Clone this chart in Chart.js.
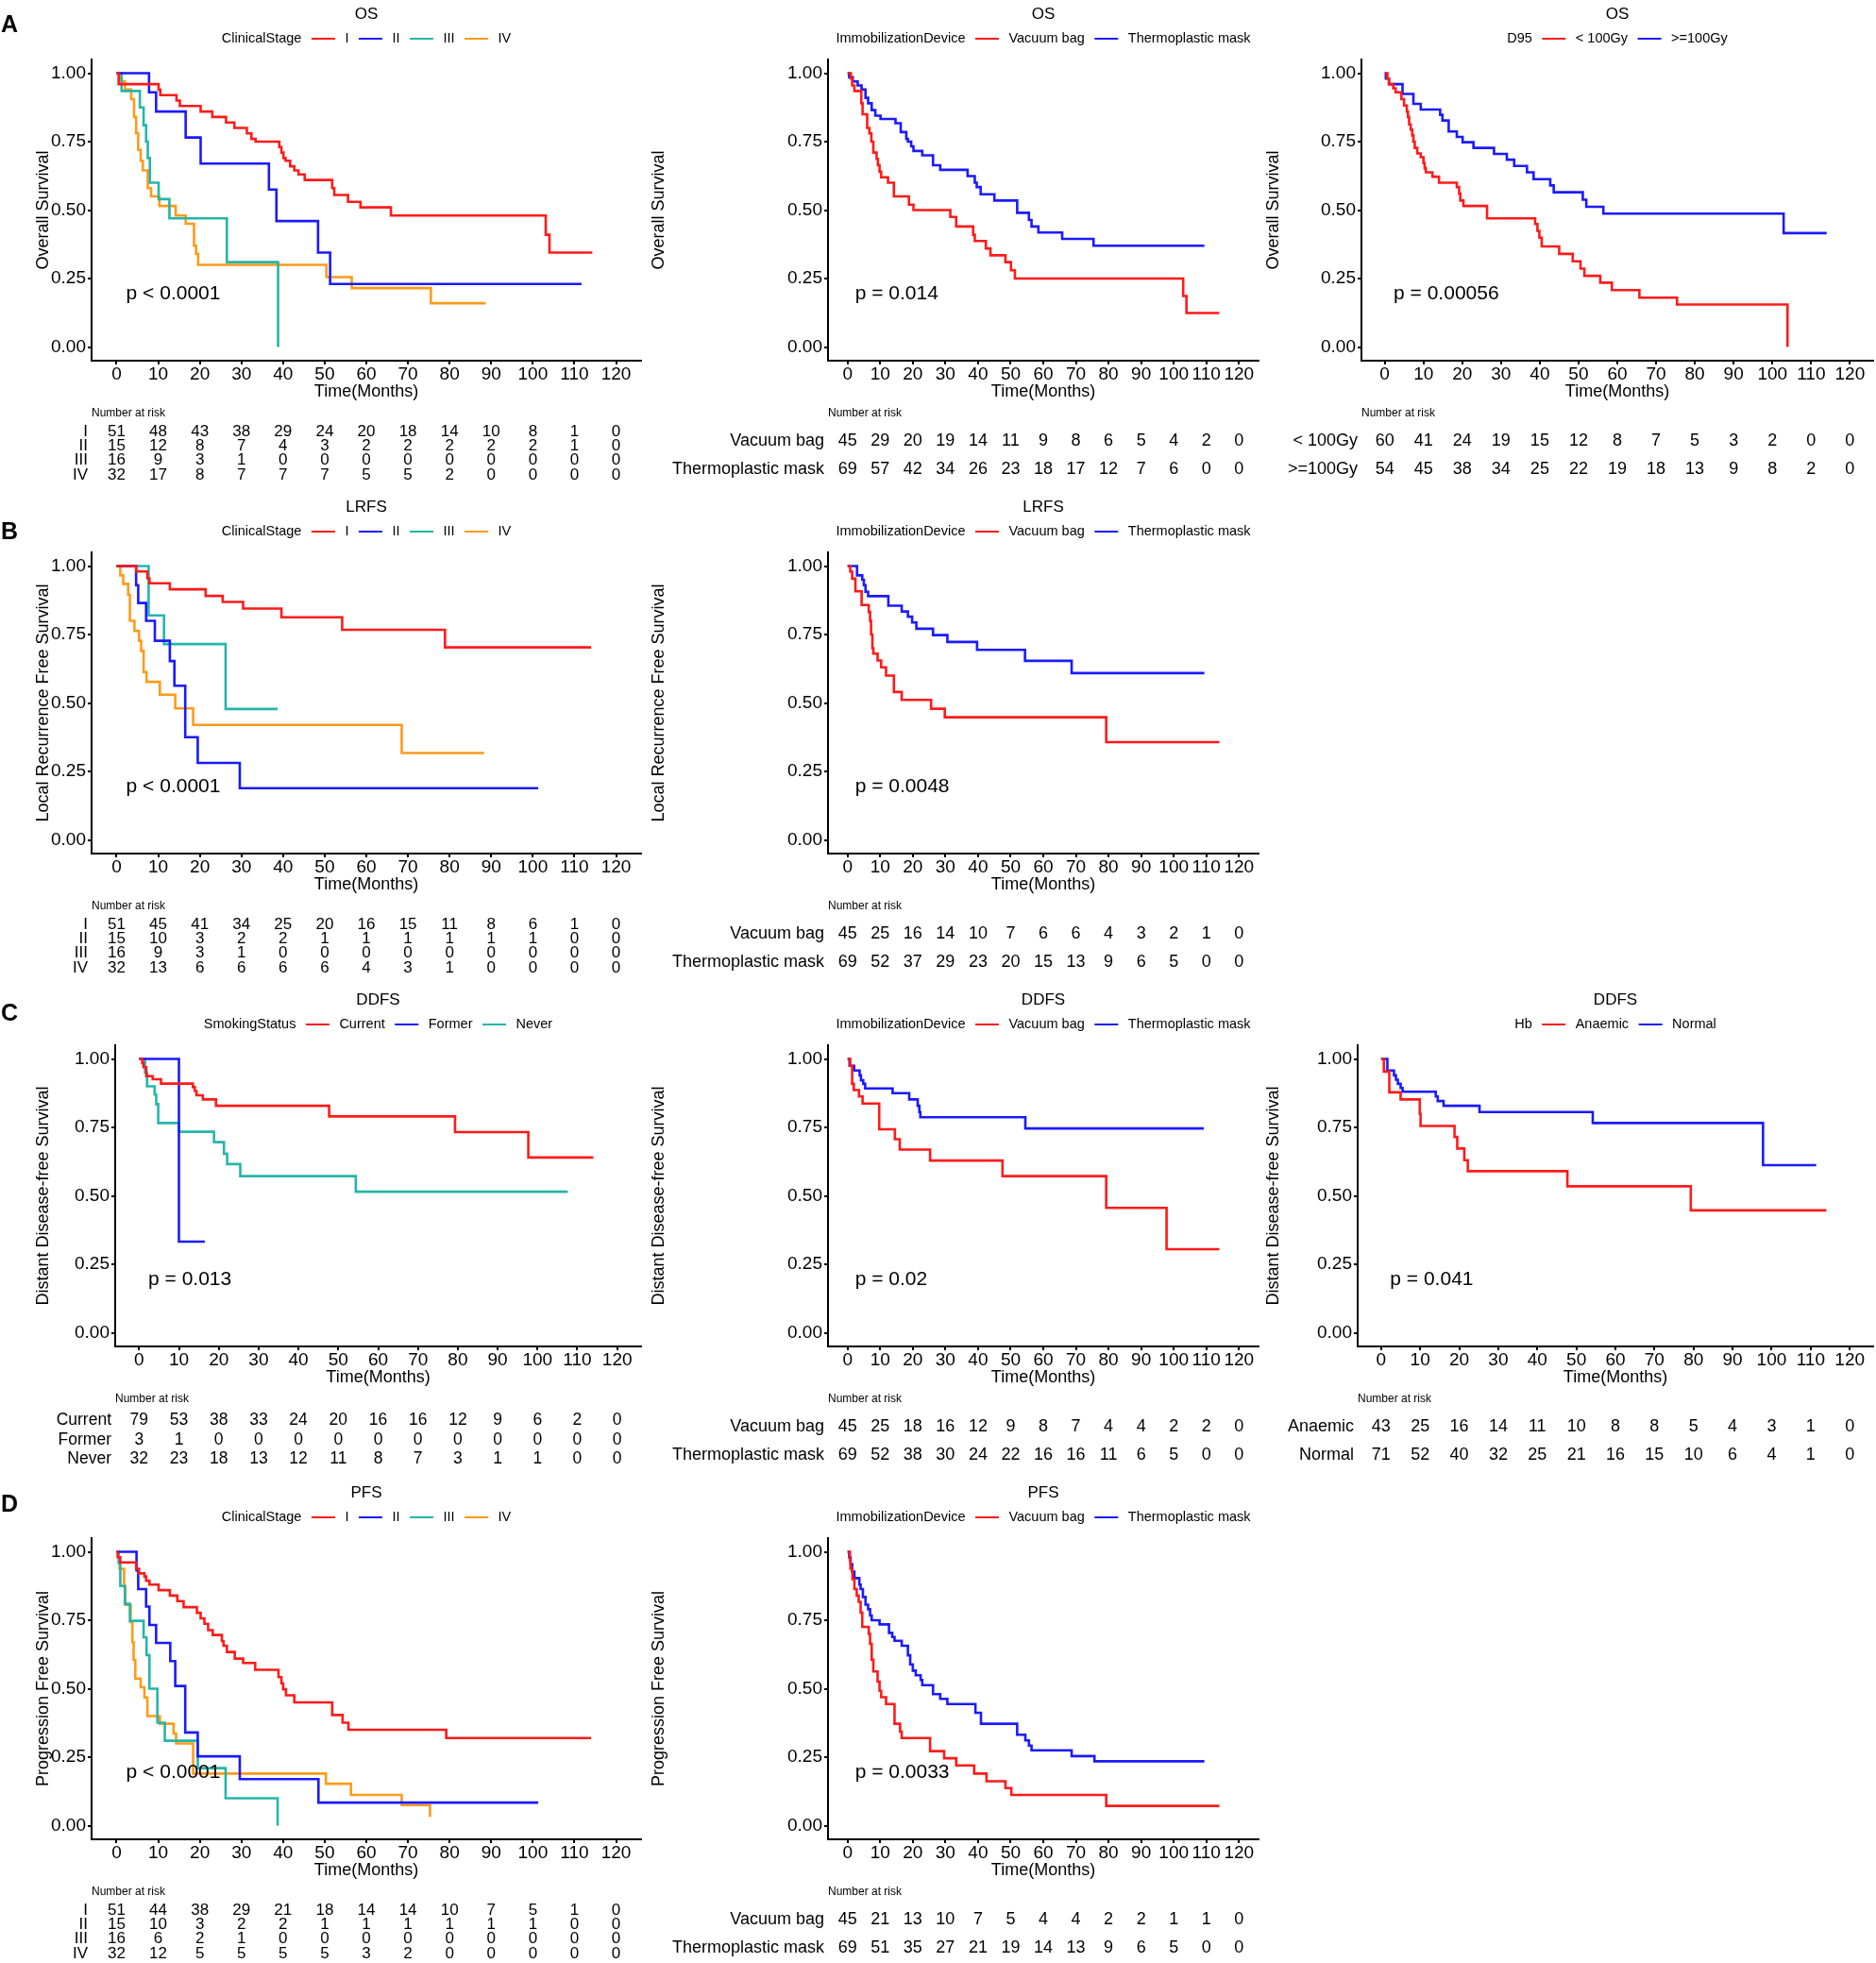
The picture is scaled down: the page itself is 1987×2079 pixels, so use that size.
<!DOCTYPE html>
<html>
<head>
<meta charset="utf-8">
<script src="https://cdn.jsdelivr.net/npm/chart.js@4.4.1/dist/chart.umd.min.js"></script>
<style>
  html, body { margin: 0; padding: 0; background: #fff; }
  #page { position: relative; width: 1987px; height: 2079px; overflow: hidden; background: #fff; }
  #page canvas { position: absolute; }
</style>
</head>
<body>
<div id="page"></div>
<script>
// axes
const xTicks = [0, 10, 20, 30, 40, 50, 60, 70, 80, 90, 100, 110, 120];
const yTicks = [0, 0.25, 0.5, 0.75, 1];
const yTickLabels = ['0.00', '0.25', '0.50', '0.75', '1.00'];

// group names
const stageGroups = ['I', 'II', 'III', 'IV'];
const deviceGroups = ['Vacuum bag', 'Thermoplastic mask'];
const doseGroups = ['< 100Gy', '>=100Gy'];
const smokingGroups = ['Current', 'Former', 'Never'];
const hbGroups = ['Anaemic', 'Normal'];

// ---- A: OS ----
// [month, survival] at each step
const osStageI = [[0,1],[0.5,0.96],[10.1,0.94],[10.5,0.92],[14.4,0.90],[15.2,0.88],[20.2,0.86],[23,0.84],[26.3,0.82],[28.3,0.80],[31.3,0.78],[32.4,0.76],[33.4,0.75],[39.1,0.73],[39.6,0.71],[40.1,0.69],[40.6,0.68],[41.7,0.66],[42.7,0.645],[43.7,0.63],[45.2,0.61],[51.8,0.58],[52.3,0.555],[55.6,0.53],[58.6,0.51],[65.9,0.48],[103.1,0.41],[104,0.345],[114.3,0.345]];
const osStageII = [[0,1],[7.8,0.93],[9.5,0.86],[16.6,0.765],[20.2,0.67],[36.6,0.575],[38.4,0.46],[48.4,0.345],[51.3,0.23],[111.7,0.23]];
const osStageIII = [[0,1],[1.2,0.935],[5.6,0.875],[6.5,0.81],[7.1,0.75],[7.5,0.69],[8,0.60],[10.1,0.54],[12.7,0.47],[26.5,0.31],[38.8,0]];
const osStageIV = [[0,1],[0.8,0.97],[2,0.94],[3.5,0.905],[4.2,0.84],[4.7,0.78],[5.2,0.72],[5.8,0.68],[6.3,0.645],[7.5,0.58],[8.3,0.55],[10.3,0.515],[14.2,0.48],[16.6,0.45],[18.6,0.37],[19.1,0.34],[19.6,0.30],[50.4,0.255],[56.5,0.215],[75.5,0.16],[88.7,0.16]];
const osStageRisk = [[51,48,43,38,29,24,20,18,14,10,8,1,0],[15,12,8,7,4,3,2,2,2,2,2,1,0],[16,9,3,1,0,0,0,0,0,0,0,0,0],[32,17,8,7,7,7,5,5,2,0,0,0,0]];

const osVacuum = [[0,1],[1,0.98],[1.4,0.955],[2.1,0.935],[4.2,0.89],[4.6,0.85],[6,0.80],[6.7,0.78],[7.3,0.75],[7.9,0.71],[8.9,0.687],[9.3,0.664],[9.8,0.64],[10.3,0.62],[12.4,0.60],[14.2,0.55],[18.8,0.52],[20.2,0.50],[31.5,0.475],[33.3,0.44],[38.5,0.41],[39,0.387],[42.4,0.36],[43.8,0.335],[48.4,0.31],[50.1,0.28],[51.3,0.25],[102.9,0.186],[103.9,0.124],[114,0.124]];
const osMask = [[0,1],[0.5,0.985],[1.6,0.97],[3.1,0.955],[4.3,0.94],[5.5,0.91],[6.3,0.89],[7.4,0.865],[8.5,0.845],[10.1,0.833],[14.7,0.817],[16.3,0.785],[18,0.76],[18.5,0.75],[19.5,0.733],[20.2,0.716],[22.9,0.70],[26.2,0.664],[28.4,0.647],[36.8,0.624],[39,0.60],[39.6,0.584],[40.8,0.558],[45,0.535],[52,0.49],[55.6,0.464],[56.4,0.44],[58.5,0.418],[65.8,0.395],[75.4,0.37],[109.4,0.37]];
const osDeviceRisk = [[45,29,20,19,14,11,9,8,6,5,4,2,0],[69,57,42,34,26,23,18,17,12,7,6,0,0]];

const osLowDose = [[0,1],[0.7,0.98],[1.1,0.96],[2.2,0.945],[2.8,0.93],[4.3,0.905],[5,0.882],[5.7,0.86],[6,0.84],[6.3,0.813],[6.7,0.794],[7.1,0.773],[7.4,0.75],[7.75,0.727],[8.4,0.707],[9.3,0.693],[10,0.672],[10.3,0.653],[10.6,0.638],[12.3,0.622],[14,0.60],[18.6,0.584],[19.2,0.56],[19.5,0.535],[20.3,0.515],[26.4,0.47],[38.8,0.449],[39.4,0.424],[39.9,0.399],[40.5,0.367],[45,0.34],[48.5,0.313],[50.5,0.286],[51.5,0.26],[55.6,0.235],[58.6,0.208],[65.7,0.18],[75.4,0.155],[103.9,0]];
const osHighDose = [[0,1],[0.3,0.98],[1.1,0.96],[4.6,0.924],[7.4,0.888],[9.3,0.867],[14.3,0.848],[14.9,0.827],[16.5,0.787],[18.6,0.767],[20.1,0.748],[22.9,0.727],[28.2,0.705],[31.5,0.684],[33.4,0.661],[36.7,0.638],[38.4,0.613],[42.7,0.59],[43.6,0.565],[51.1,0.538],[52,0.512],[56.4,0.487],[102.9,0.416],[114,0.416]];
const osDoseRisk = [[60,41,24,19,15,12,8,7,5,3,2,0,0],[54,45,38,34,25,22,19,18,13,9,8,2,0]];

// ---- B: LRFS ----
const lrfsStageI = [[0,1],[4.7,0.98],[7.4,0.955],[7.9,0.937],[12.8,0.915],[21.4,0.891],[25.5,0.869],[30.4,0.845],[39.6,0.813],[54.2,0.767],[78.9,0.703],[114,0.703]];
const lrfsStageII = [[0,1],[4.7,0.93],[5.2,0.865],[7.1,0.80],[9.2,0.727],[12.8,0.653],[13.9,0.563],[16.5,0.375],[19.5,0.281],[29.6,0.189],[101.3,0.189]];
const lrfsStageIII = [[0,1],[7.7,0.82],[11.4,0.715],[26.2,0.478],[38.7,0.478]];
const lrfsStageIV = [[0,1],[0.9,0.966],[1.6,0.935],[2.8,0.895],[3.2,0.80],[4.3,0.763],[5.4,0.727],[5.9,0.69],[6.5,0.613],[7.2,0.577],[10.4,0.53],[14.1,0.48],[18.4,0.42],[68.5,0.317],[88.3,0.317]];
const lrfsStageRisk = [[51,45,41,34,25,20,16,15,11,8,6,1,0],[15,10,3,2,2,1,1,1,1,1,1,0,0],[16,9,3,1,0,0,0,0,0,0,0,0,0],[32,13,6,6,6,6,4,3,1,0,0,0,0]];

const lrfsVacuum = [[0,1],[0.8,0.98],[1.4,0.954],[2.4,0.908],[4.3,0.858],[6.5,0.832],[6.9,0.80],[7.2,0.75],[7.6,0.70],[7.9,0.68],[9.2,0.655],[10.3,0.63],[11.8,0.60],[14.2,0.54],[16.6,0.511],[25.6,0.479],[29.8,0.448],[79.3,0.357],[114,0.357]];
const lrfsMask = [[0,1],[2.9,0.966],[4.5,0.95],[5,0.93],[5.5,0.906],[6.3,0.89],[12.5,0.855],[16.6,0.834],[18.5,0.815],[19.8,0.794],[21.1,0.771],[26.2,0.748],[30.6,0.723],[39.7,0.694],[54.4,0.654],[68.7,0.609],[109.4,0.609]];
const lrfsDeviceRisk = [[45,25,16,14,10,7,6,6,4,3,2,1,0],[69,52,37,29,23,20,15,13,9,6,5,0,0]];

// ---- C: DDFS ----
const ddfsCurrent = [[0,1],[0.8,0.985],[1.1,0.97],[1.8,0.937],[3.4,0.926],[5.5,0.91],[13.5,0.897],[14,0.883],[14.4,0.867],[16,0.852],[19.3,0.829],[47.7,0.79],[79.3,0.733],[97.7,0.64],[114,0.64]];
const ddfsFormer = [[0,1],[10,0.333],[16.5,0.333]];
const ddfsNever = [[0,1],[1.5,0.95],[2,0.90],[3.9,0.87],[4.3,0.835],[4.8,0.766],[10,0.734],[18.8,0.696],[21.3,0.654],[22.1,0.616],[25.4,0.572],[54.4,0.515],[107.6,0.515]];
const ddfsSmokingRisk = [[79,53,38,33,24,20,16,16,12,9,6,2,0],[3,1,0,0,0,0,0,0,0,0,0,0,0],[32,23,18,13,12,11,8,7,3,1,1,0,0]];

const ddfsVacuum = [[0,1],[0.8,0.975],[1.4,0.909],[1.9,0.886],[3.5,0.863],[4.6,0.837],[9.7,0.743],[14.5,0.707],[16,0.669],[25.3,0.629],[47.5,0.572],[79.3,0.456],[97.8,0.305],[114,0.305]];
const ddfsMask = [[0,1],[0.6,0.975],[2,0.958],[3.7,0.94],[4.1,0.922],[4.8,0.909],[5.4,0.892],[13.8,0.875],[18.9,0.852],[21.5,0.829],[22,0.806],[22.3,0.787],[54.5,0.746],[109.2,0.746]];
const ddfsDeviceRisk = [[45,25,18,16,12,9,8,7,4,4,2,2,0],[69,52,38,30,24,22,16,16,11,6,5,0,0]];

const ddfsAnaemic = [[0,1],[0.7,0.954],[2.1,0.878],[5,0.852],[9.9,0.80],[10.1,0.755],[18.8,0.715],[19.5,0.673],[21.3,0.63],[22.2,0.59],[47.7,0.535],[79.3,0.447],[114,0.447]];
const ddfsNormal = [[0,1],[1.6,0.958],[3.3,0.94],[3.8,0.924],[4.3,0.909],[5,0.894],[5.5,0.88],[14,0.863],[14.5,0.846],[16,0.829],[25.2,0.806],[54.2,0.766],[97.8,0.612],[111.4,0.612]];
const ddfsHbRisk = [[43,25,16,14,11,10,8,8,5,4,3,1,0],[71,52,40,32,25,21,16,15,10,6,4,1,0]];

// ---- D: PFS ----
const pfsStageI = [[0,1],[0.3,0.98],[0.9,0.961],[4.7,0.938],[5.4,0.921],[6.7,0.91],[7.1,0.894],[7.9,0.88],[10.1,0.86],[12.8,0.84],[14.6,0.82],[16.1,0.798],[19.3,0.777],[20.2,0.757],[21.1,0.737],[22,0.714],[23.1,0.696],[25.3,0.674],[25.7,0.657],[26.5,0.634],[28.4,0.61],[30.4,0.594],[33.3,0.569],[38.9,0.542],[39.6,0.52],[40,0.498],[40.7,0.476],[42.7,0.45],[51.8,0.404],[54.3,0.376],[55.7,0.35],[79.2,0.32],[114,0.32]];
const pfsStageII = [[0,1],[4.8,0.932],[5.2,0.864],[7.1,0.80],[7.9,0.733],[9.5,0.667],[12.9,0.601],[14.1,0.51],[16.5,0.34],[19.5,0.253],[29.6,0.17],[48.5,0.084],[101.3,0.084]];
const pfsStageIII = [[0,1],[0.5,0.96],[0.9,0.875],[2,0.81],[3.2,0.748],[6.5,0.688],[7.2,0.623],[7.9,0.50],[9.8,0.376],[11.6,0.31],[19.5,0.21],[26.2,0.10],[38.7,0]];
const pfsStageIV = [[0,1],[0.3,0.98],[0.7,0.938],[1.8,0.875],[2.1,0.806],[3.4,0.743],[3.8,0.67],[4.1,0.605],[4.5,0.537],[5.8,0.505],[6.7,0.468],[7.4,0.40],[10.4,0.372],[13.7,0.336],[14.3,0.30],[18.4,0.19],[50.3,0.153],[56.3,0.112],[68.5,0.075],[75.3,0.032]];
const pfsStageRisk = [[51,44,38,29,21,18,14,14,10,7,5,1,0],[15,10,3,2,2,1,1,1,1,1,1,0,0],[16,6,2,1,0,0,0,0,0,0,0,0,0],[32,12,5,5,5,5,3,2,0,0,0,0,0]];

const pfsVacuum = [[0,1],[0.7,0.97],[0.9,0.938],[1.5,0.90],[2.1,0.864],[2.8,0.84],[3.4,0.817],[4,0.778],[4.5,0.726],[6.5,0.70],[6.9,0.664],[7.4,0.606],[7.9,0.563],[9.2,0.526],[9.8,0.492],[10.3,0.469],[11.8,0.444],[14.4,0.372],[16.1,0.343],[16.6,0.32],[25.3,0.272],[29.6,0.246],[33.3,0.22],[38.8,0.19],[42.6,0.162],[48.4,0.137],[50.2,0.112],[79.3,0.072],[114,0.072]];
const pfsMask = [[0,1],[0.5,0.98],[0.9,0.955],[1.4,0.927],[2.1,0.904],[3.6,0.88],[4,0.864],[4.7,0.835],[5.5,0.807],[6.3,0.79],[6.9,0.767],[7.4,0.75],[9.8,0.735],[12.7,0.704],[13.7,0.689],[14.4,0.675],[16.6,0.657],[18.5,0.622],[19.2,0.589],[20,0.566],[20.9,0.549],[22.4,0.532],[22.9,0.513],[26.2,0.48],[28.4,0.463],[30.6,0.444],[39.2,0.412],[40.9,0.372],[52,0.332],[54.5,0.311],[55.6,0.292],[56.4,0.275],[68.7,0.254],[75.7,0.235],[109.4,0.235]];
const pfsDeviceRisk = [[45,21,13,10,7,5,4,4,2,2,1,1,0],[69,51,35,27,21,19,14,13,9,6,5,0,0]];

// colours
const RED = '#FF1A1A', BLUE = '#1A1AFF', TEAL = '#26B5A8', ORANGE = '#FF9A1A';
const stageColors = [RED, BLUE, TEAL, ORANGE];
const twoColors = [RED, BLUE];
const FONT = '"Liberation Sans", Arial, Helvetica, sans-serif';

// page layout
const ROW_TOP = [0, 522, 1044, 1566];
const COLS = [
    { x0: 0, w: 690, left: 97, right: 679, yTitleX: 46 },
    { x0: 680, w: 665, left: 197, right: 653, yTitleX: 18 },
    { x0: 1325, w: 662, left: 117, right: 659, yTitleX: 24 }
];
const PLOT_TOP = 63, PLOT_BOTTOM = 382, X_AXIS_H = 44;

// titres, légendes, p et table des effectifs
const kmDecor = {
    id: 'kmDecor',
    afterDraw(chart) {
        const o = chart.canvas._km;
        const ctx = chart.ctx;
        const area = chart.chartArea;
        const xs = chart.scales.x, ys = chart.scales.y;
        const cx = (area.left + area.right) / 2;
        ctx.save();
        ctx.fillStyle = '#000';
        ctx.textBaseline = 'middle';

        // panel letter
        if (o.letter) {
            ctx.font = 'bold 25px ' + FONT;
            ctx.textAlign = 'left';
            ctx.fillText(o.letter, 1, o.letterY);
        }

        // title
        ctx.font = '17px ' + FONT;
        ctx.textAlign = 'center';
        ctx.fillText(o.title, cx, 15);

        // legend
        ctx.font = '14.5px ' + FONT;
        ctx.textAlign = 'left';
        const gap = 10.5, key = 25, ly = 41;
        const n = o.groups.length;
        const tw = ctx.measureText(o.legendTitle).width;
        const lw = o.groups.map(g => ctx.measureText(g).width);
        const total = tw + lw.reduce((a, b) => a + b, 0) + n * key + 2 * n * gap;
        let x = cx - total / 2;
        ctx.fillText(o.legendTitle, x, ly);
        x += tw + gap;
        o.groups.forEach((g, i) => {
            ctx.strokeStyle = o.colors[i];
            ctx.lineWidth = 2;
            ctx.beginPath();
            ctx.moveTo(x, ly);
            ctx.lineTo(x + key, ly);
            ctx.stroke();
            x += key + gap;
            ctx.fillText(g, x, ly);
            x += lw[i] + gap;
        });

        // p value
        ctx.font = '21px ' + FONT;
        ctx.fillText(o.pval, xs.getPixelForValue(2.3), ys.getPixelForValue(0.193));

        // number at risk
        ctx.font = '12px ' + FONT;
        ctx.fillText('Number at risk', area.left, 438);
        const rowY = n === 4 ? [457.5, 472.5, 487.5, 503] : n === 3 ? [460.5, 481, 501.5] : [467, 497.5];
        const fs = n === 4 ? 17 : n === 3 ? 17.5 : 18;
        ctx.font = fs + 'px ' + FONT;
        o.risk.forEach((row, r) => {
            ctx.textAlign = 'right';
            ctx.fillText(o.groups[r], area.left - 4, rowY[r]);
            ctx.textAlign = 'center';
            row.forEach((v, i) => ctx.fillText(String(v), xs.getPixelForValue(xTicks[i]), rowY[r]));
        });
        ctx.restore();
    }
};

const page = document.getElementById('page');

function makePanel(p) {
    const geo = COLS[p.col];
    const H = p.row === 3 ? 513 : 522;
    const left = p.left || geo.left;
    const canvas = document.createElement('canvas');
    canvas.width = geo.w;
    canvas.height = H;
    canvas.style.left = geo.x0 + 'px';
    canvas.style.top = ROW_TOP[p.row] + 'px';
    canvas.style.width = geo.w + 'px';
    canvas.style.height = H + 'px';
    canvas._km = p;
    page.appendChild(canvas);

    new Chart(canvas, {
        type: 'line',
        data: {
            datasets: p.curves.map((c, i) => ({
                label: p.groups[i],
                data: c.map(([t, s]) => ({ x: t, y: s })),
                borderColor: p.colors[i],
                borderWidth: 2.6,
                stepped: true,
                pointRadius: 0,
                fill: false
            }))
        },
        options: {
            responsive: false,
            animation: false,
            devicePixelRatio: 1,
            events: [],
            layout: {
                padding: { left: 0, top: PLOT_TOP, right: geo.w - geo.right, bottom: H - PLOT_BOTTOM - X_AXIS_H }
            },
            plugins: {
                legend: { display: false },
                title: { display: false },
                tooltip: { enabled: false }
            },
            scales: {
                x: {
                    type: 'linear',
                    min: -6,
                    max: 126,
                    afterBuildTicks: s => { s.ticks = xTicks.map(v => ({ value: v })); },
                    afterFit: s => { s.height = X_AXIS_H; },
                    ticks: {
                        autoSkip: false,
                        maxRotation: 0,
                        padding: 1,
                        color: '#000',
                        font: { family: FONT, size: 19, lineHeight: 1 },
                        callback: v => String(v)
                    },
                    grid: { drawOnChartArea: false, tickLength: 4, color: '#000', lineWidth: 2 },
                    border: { color: '#000', width: 2 },
                    title: {
                        display: true,
                        text: 'Time(Months)',
                        color: '#000',
                        font: { family: FONT, size: 18 },
                        padding: { top: 0, bottom: 0 }
                    }
                },
                y: {
                    min: -0.05,
                    max: 1.05,
                    afterBuildTicks: s => { s.ticks = yTicks.map(v => ({ value: v })); },
                    afterFit: s => { s.width = left; },
                    ticks: {
                        padding: 2,
                        color: '#000',
                        font: { family: FONT, size: 19, lineHeight: 1 },
                        callback: v => yTickLabels[yTicks.indexOf(v)]
                    },
                    grid: { drawOnChartArea: false, tickLength: 4, color: '#000', lineWidth: 2 },
                    border: { color: '#000', width: 2 },
                    title: {
                        display: true,
                        text: p.yTitle,
                        color: '#000',
                        font: { family: FONT, size: 18 },
                        padding: { top: geo.yTitleX - 10.8, bottom: 0 }
                    }
                }
            }
        },
        plugins: [kmDecor]
    });
}

// A
makePanel({ row: 0, col: 0, letter: 'A', letterY: 27, title: 'OS', yTitle: 'Overall Survival', legendTitle: 'ClinicalStage',
    groups: stageGroups, colors: stageColors, curves: [osStageI, osStageII, osStageIII, osStageIV], risk: osStageRisk, pval: 'p < 0.0001' });
makePanel({ row: 0, col: 1, title: 'OS', yTitle: 'Overall Survival', legendTitle: 'ImmobilizationDevice',
    groups: deviceGroups, colors: twoColors, curves: [osVacuum, osMask], risk: osDeviceRisk, pval: 'p = 0.014' });
makePanel({ row: 0, col: 2, title: 'OS', yTitle: 'Overall Survival', legendTitle: 'D95',
    groups: doseGroups, colors: twoColors, curves: [osLowDose, osHighDose], risk: osDoseRisk, pval: 'p = 0.00056' });

// B
makePanel({ row: 1, col: 0, letter: 'B', letterY: 42, title: 'LRFS', yTitle: 'Local Recurrence Free Survival', legendTitle: 'ClinicalStage',
    groups: stageGroups, colors: stageColors, curves: [lrfsStageI, lrfsStageII, lrfsStageIII, lrfsStageIV], risk: lrfsStageRisk, pval: 'p < 0.0001' });
makePanel({ row: 1, col: 1, title: 'LRFS', yTitle: 'Local Recurrence Free Survival', legendTitle: 'ImmobilizationDevice',
    groups: deviceGroups, colors: twoColors, curves: [lrfsVacuum, lrfsMask], risk: lrfsDeviceRisk, pval: 'p = 0.0048' });

// C
makePanel({ row: 2, col: 0, left: 122, letter: 'C', letterY: 30, title: 'DDFS', yTitle: 'Distant Disease-free Survival', legendTitle: 'SmokingStatus',
    groups: smokingGroups, colors: [RED, BLUE, TEAL], curves: [ddfsCurrent, ddfsFormer, ddfsNever], risk: ddfsSmokingRisk, pval: 'p = 0.013' });
makePanel({ row: 2, col: 1, title: 'DDFS', yTitle: 'Distant Disease-free Survival', legendTitle: 'ImmobilizationDevice',
    groups: deviceGroups, colors: twoColors, curves: [ddfsVacuum, ddfsMask], risk: ddfsDeviceRisk, pval: 'p = 0.02' });
makePanel({ row: 2, col: 2, left: 113, title: 'DDFS', yTitle: 'Distant Disease-free Survival', legendTitle: 'Hb',
    groups: hbGroups, colors: twoColors, curves: [ddfsAnaemic, ddfsNormal], risk: ddfsHbRisk, pval: 'p = 0.041' });

// D
makePanel({ row: 3, col: 0, letter: 'D', letterY: 28, title: 'PFS', yTitle: 'Progression Free Survival', legendTitle: 'ClinicalStage',
    groups: stageGroups, colors: stageColors, curves: [pfsStageI, pfsStageII, pfsStageIII, pfsStageIV], risk: pfsStageRisk, pval: 'p < 0.0001' });
makePanel({ row: 3, col: 1, title: 'PFS', yTitle: 'Progression Free Survival', legendTitle: 'ImmobilizationDevice',
    groups: deviceGroups, colors: twoColors, curves: [pfsVacuum, pfsMask], risk: pfsDeviceRisk, pval: 'p = 0.0033' });
</script>
</body>
</html>
